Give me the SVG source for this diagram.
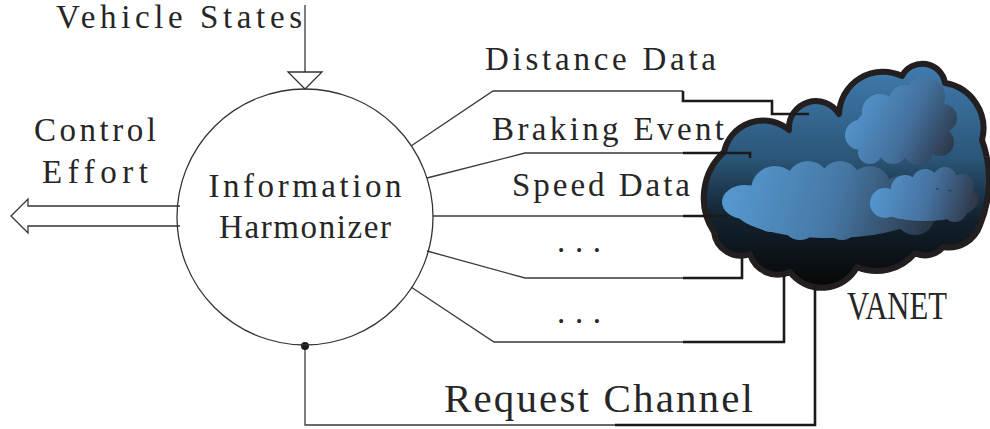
<svg xmlns="http://www.w3.org/2000/svg" width="990" height="429" viewBox="0 0 990 429">
  <style>
    .lbl { font-family: "Liberation Serif", "DejaVu Serif", serif; font-size: 33px; fill: #262626; }
    .big { font-size: 41px; }
    .thin { fill: none; stroke: #3a3a3a; stroke-width: 1.3; }
    .thick { fill: none; stroke: #1a1a1a; stroke-width: 2.6; stroke-linejoin: miter; }
    .outline { fill: #fff; stroke: #333; stroke-width: 1.3; }
  </style>
  <defs>
    <linearGradient id="skyFill" gradientUnits="userSpaceOnUse" x1="0" y1="62" x2="0" y2="290">
      <stop offset="0" stop-color="#417db0"/>
      <stop offset="0.42" stop-color="#2b5678"/>
      <stop offset="0.68" stop-color="#13222f"/>
      <stop offset="1" stop-color="#060606"/>
    </linearGradient>
    <linearGradient id="puffMid" gradientUnits="userSpaceOnUse" x1="730" y1="185" x2="935" y2="245">
      <stop offset="0" stop-color="#5598d0"/>
      <stop offset="0.5" stop-color="#4677a4"/>
      <stop offset="1" stop-color="#26303d"/>
    </linearGradient>
    <linearGradient id="puffTop" gradientUnits="userSpaceOnUse" x1="850" y1="110" x2="955" y2="165">
      <stop offset="0" stop-color="#5596cf"/>
      <stop offset="0.5" stop-color="#43709c"/>
      <stop offset="1" stop-color="#272c38"/>
    </linearGradient>
    <linearGradient id="puffSmall" gradientUnits="userSpaceOnUse" x1="872" y1="190" x2="978" y2="222">
      <stop offset="0" stop-color="#5597d0"/>
      <stop offset="0.5" stop-color="#4672a0"/>
      <stop offset="1" stop-color="#2b2f3a"/>
    </linearGradient>
  </defs>

  <!-- VANET cloud -->
  <g id="vanet">
    <path d="M714,232 A62,62 0 0 1 724,152 A40,40 0 0 1 789,130 A27,27 0 0 1 839,114 A44,44 0 0 1 902,76 A23,23 0 0 1 945,83 A46,46 0 0 1 982,140 A117,117 0 0 1 980,225 A33,33 0 0 1 943,247 A23,23 0 0 1 915,253 A50,50 0 0 1 857,267 A40,40 0 0 1 790,272 A29,29 0 0 1 750,254 A27,27 0 0 1 714,232 Z" fill="url(#skyFill)" stroke="#231f20" stroke-width="6" stroke-linejoin="round"/>
    <g fill="url(#puffMid)">
      <ellipse cx="745" cy="202" rx="23" ry="17"/>
      <circle cx="775" cy="190" r="24"/>
      <circle cx="808" cy="183" r="22"/>
      <circle cx="840" cy="181" r="20"/>
      <circle cx="870" cy="186" r="20"/>
      <circle cx="900" cy="196" r="20"/>
      <circle cx="915" cy="215" r="20"/>
      <ellipse cx="830" cy="210" rx="95" ry="28"/>
      <circle cx="800" cy="222" r="18"/>
      <circle cx="770" cy="218" r="14"/>
      <circle cx="842" cy="224" r="16"/>
    </g>
    <g fill="url(#puffTop)">
      <circle cx="860" cy="135" r="15"/>
      <circle cx="880" cy="112" r="18"/>
      <circle cx="905" cy="101" r="16"/>
      <circle cx="925" cy="97" r="20"/>
      <circle cx="943" cy="118" r="14"/>
      <circle cx="940" cy="142" r="14"/>
      <circle cx="918" cy="150" r="15"/>
      <circle cx="893" cy="150" r="14"/>
      <circle cx="870" cy="152" r="12"/>
      <ellipse cx="900" cy="128" rx="45" ry="25"/>
    </g>
    <g fill="url(#puffSmall)">
      <circle cx="885" cy="203" r="15"/>
      <circle cx="905" cy="189" r="14"/>
      <circle cx="925" cy="182" r="13"/>
      <circle cx="945" cy="179" r="12"/>
      <circle cx="962" cy="186" r="12"/>
      <circle cx="970" cy="200" r="9"/>
      <ellipse cx="925" cy="205" rx="50" ry="16"/>
      <circle cx="955" cy="210" r="12"/>
    </g>
    <text class="lbl big" x="847" y="319" textLength="100" lengthAdjust="spacingAndGlyphs">VANET</text>
  </g>

  <!-- connectors -->
  <g id="connectors">
    <!-- vehicle state input -->
    <path class="thin" d="M305,5 V72"/>
    <path class="outline" d="M288,72 H322 L305,89 Z"/>
    <!-- control effort output -->
    <path class="outline" d="M180,206 H28 V199 L11,216 L28,233 V226 H180"/>
    <!-- data links -->
    <path class="thin" d="M411,146 L493,91 H683"/>
    <path class="thick" d="M683,91 V101 H772 V114 H809"/>
    <path class="thin" d="M427,178 L525,153 H683"/>
    <path class="thick" d="M683,153 H750 V158"/>
    <path class="thin" d="M433,216 H683"/>
    <path class="thick" d="M683,216 H727"/>
    <path class="thin" d="M427,251 L525,278 H683"/>
    <path class="thick" d="M683,278 H742 V258"/>
    <path class="thin" d="M411,287 L494,342 H683"/>
    <path class="thick" d="M683,342 H784 V275"/>
    <!-- request channel -->
    <path class="thin" d="M305,346 V425 H615"/>
    <path class="thick" d="M615,425 H815 V286"/>
    <circle cx="305" cy="346" r="4" fill="#1a1a1a"/>
  </g>

  <!-- harmonizer -->
  <g id="harmonizer">
    <circle cx="305" cy="217" r="128" fill="none" stroke="#333" stroke-width="1.3"/>
    <text class="lbl" x="305" y="197" text-anchor="middle" textLength="193" lengthAdjust="spacing">Information</text>
    <text class="lbl" x="305" y="238" text-anchor="middle" textLength="172" lengthAdjust="spacing">Harmonizer</text>
  </g>

  <!-- labels -->
  <g id="labels">
    <text class="lbl" x="56" y="28" textLength="246" lengthAdjust="spacing">Vehicle States</text>
    <text class="lbl" x="34" y="141" textLength="122" lengthAdjust="spacing">Control</text>
    <text class="lbl" x="42" y="183" textLength="106" lengthAdjust="spacing">Effort</text>
    <text class="lbl" x="485" y="70" textLength="231" lengthAdjust="spacing">Distance Data</text>
    <text class="lbl" x="492" y="140" textLength="232" lengthAdjust="spacing">Braking Event</text>
    <text class="lbl" x="512" y="196" textLength="178" lengthAdjust="spacing">Speed Data</text>
    <text class="lbl" x="557" y="252" textLength="44" lengthAdjust="spacing">...</text>
    <text class="lbl" x="557" y="323" textLength="44" lengthAdjust="spacing">...</text>
    <text class="lbl big" x="444" y="412" textLength="309" lengthAdjust="spacing">Request Channel</text>
  </g>
</svg>
